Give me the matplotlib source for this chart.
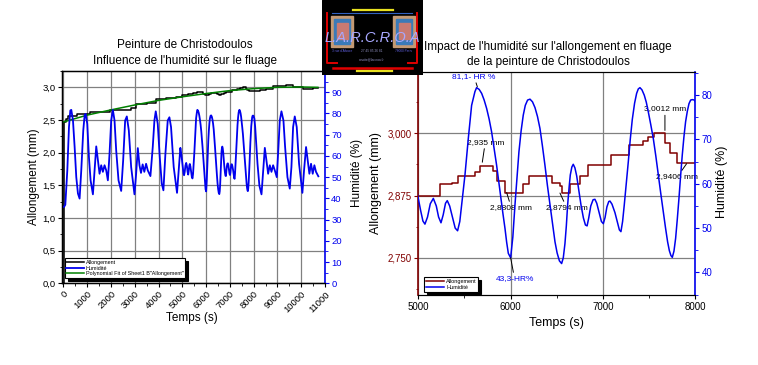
import numpy as np
import matplotlib.pyplot as plt
from matplotlib.ticker import FuncFormatter, MultipleLocator
from matplotlib.patches import Rectangle

plt.rcParams['font.family'] = ['Liberation Sans', 'DejaVu Sans']

# allongement (mm), escalier
temps_allong = [0, 15, 40, 90, 200, 550, 1112, 1951, 2860, 3070, 3500, 3909, 4330, 4750,
                5000, 5235, 5361, 5434, 5614, 5669, 5813, 5849, 5940, 6138, 6205, 6446,
                6536, 6561, 6644, 6753, 6836, 7085, 7285, 7439, 7494, 7559, 7674, 7729,
                7801, 8250, 8500, 8800, 9364, 9643, 10063, 10480, 10720]
allongement = [0.0, 2.44, 2.47, 2.52, 2.555, 2.598, 2.623, 2.659, 2.684, 2.75, 2.766, 2.817,
               2.837, 2.857, 2.875, 2.8972, 2.9012, 2.914, 2.9227, 2.935, 2.924, 2.9046,
               2.8808, 2.8972, 2.914, 2.9012, 2.8945, 2.8794, 2.8972, 2.9147, 2.936, 2.956,
               2.9765, 2.9845, 2.9933, 3.0012, 2.9798, 2.9597, 2.9406, 2.965, 2.98, 3.02,
               3.04, 3.005, 2.975, 2.99, 2.99]

# ajustement polynomial
temps_fit = [0, 1000, 2000, 3000, 4000, 5000, 6000, 7000, 8000, 9000, 10000, 10700]
allong_fit = [2.47, 2.575, 2.655, 2.73, 2.80, 2.855, 2.905, 2.95, 2.98, 3.0, 3.005, 3.0]

# humidite (%)
temps_hum = [0, 24, 77, 161, 231, 287, 329, 399, 469, 538, 608, 678, 748, 832, 888, 930, 1000,
             1070, 1140, 1238, 1308, 1378, 1448, 1517, 1587, 1657, 1727, 1797, 1867, 1937,
             2007, 2077, 2147, 2217, 2315, 2427, 2510, 2594, 2664, 2748, 2846, 2986, 3056,
             3126, 3196, 3260, 3330, 3400, 3475, 3545, 3657, 3755, 3825, 3881, 3965, 4049,
             4133, 4203, 4287, 4385, 4455, 4524, 4636, 4776, 4846, 4916, 4960,
             5000, 5025, 5050, 5072, 5100, 5130, 5163, 5195, 5220, 5246, 5270, 5295, 5314,
             5340, 5370, 5400, 5426, 5450, 5470, 5506, 5542, 5578, 5614, 5632, 5660, 5687,
             5714, 5741, 5768, 5795, 5822, 5849, 5872, 5896, 5918, 5940, 5958, 5976, 6001,
             6025, 6048, 6070, 6091, 6115, 6138, 6160, 6185, 6211, 6238, 6265, 6292, 6319,
             6346, 6373, 6400, 6428, 6455, 6482, 6505, 6530, 6554, 6572, 6590, 6605, 6619,
             6635, 6648, 6665, 6680, 6698, 6717, 6740, 6764, 6790, 6812, 6830, 6848, 6870,
             6895, 6915, 6935, 6960, 6985, 7006, 7025, 7045, 7065, 7078, 7100, 7132, 7160,
             7180, 7197, 7215, 7233, 7255, 7277, 7298, 7320, 7345, 7367, 7385, 7403, 7425,
             7450, 7472, 7494, 7520, 7548, 7575, 7602, 7629, 7656, 7680, 7703, 7722, 7739,
             7754, 7772, 7790, 7808, 7826, 7844, 7862, 7880, 7898, 7917, 7935, 7953, 7971,
             7993, 8030, 8063, 8110, 8161, 8240, 8329, 8399, 8469, 8538, 8608, 8678, 8748,
             8818, 8888, 8972, 9042, 9098, 9168, 9252, 9322, 9420, 9518, 9588, 9658, 9728,
             9811, 9909, 10049, 10119, 10203, 10273, 10343, 10413, 10483, 10553, 10622, 10720]
humidite = [36, 36, 37, 53.2, 73.6, 81.4, 81.7, 76.7, 64.2, 50, 42.3, 39.9, 53.2, 72, 79, 79.8,
            75.1, 59.5, 48.5, 41.9, 53.2, 64.5, 57.9, 51.6, 55.6, 52.5, 55.6, 53.2, 48.5, 61,
            76.7, 81.7, 76.7, 62.6, 48.5, 43.5, 57.9, 76.7, 78.6, 72, 54.8, 41.9, 51.6, 63.7,
            55.6, 52, 56, 52.5, 56.3, 53.2, 50.5, 64.2, 76.7, 81, 75.1, 59.5, 47, 43.8, 61,
            76.7, 78.2, 73.6, 54.8, 42.6, 53.2, 63.8, 60.5,
            56.7, 54, 51.6, 50.9, 52.5, 55.5, 56.7, 55, 52.5, 51.2, 53, 55.6, 56.2, 55, 52.5,
            50, 49.4, 51.5, 55.2, 62, 70.2, 77.7, 80.8, 81.7, 81.3, 80.4, 78.9, 77, 74.6, 71.7,
            68, 64.2, 60.5, 56.7, 53.2, 49.9, 46.8, 44.3, 43.3, 48, 55.2, 61.5, 67.2, 72, 75.5,
            77.7, 78.9, 79.1, 78.5, 77.2, 75.2, 72.5, 68.5, 64.2, 59.6, 55.2, 50.8, 46.9, 44.4,
            42.6, 42.0, 43.3, 46.5, 50.5, 55.2, 59.2, 62, 63.8, 64.4, 63.6, 61.8, 58.5, 55.2,
            52.3, 50.7, 50.5, 52.3, 55, 56.4, 56.5, 55.6, 53.5, 51.5, 51.0, 52.4, 54.8, 56,
            56.1, 55.4, 53.5, 51.2, 49.6, 49.2, 51.5, 55.2, 60, 65, 70, 74.5, 78.2, 80.4, 81.4,
            81.7, 81.2, 80, 78.4, 76.2, 73.4, 70.2, 66.3, 62, 57.8, 53.7, 50.1, 46.9, 44.9,
            43.8, 43.4, 44.8, 47.7, 52, 56.7, 61.8, 66.5, 70.6, 74, 76.4, 78.1, 78.9, 79, 78.9,
            77.5, 73.6, 65, 56.3, 46, 41.9, 53.2, 63.8, 57.9, 51.6, 55.6, 52.5, 55.6, 53.2, 50,
            64.2, 76.7, 81, 76.7, 64.2, 50, 44.6, 54.8, 73.6, 78.6, 73.6, 56.3, 42.6, 53.2,
            64.2, 57.9, 51.6, 56.3, 51.6, 55.6, 52.5, 50.4]

bleu = '#0000ee'
brun = '#800000'
vert = '#008000'
gris = '#808080'

W, H = 758, 365


def px(x0, y0, x1, y1):
    return [x0 / W, 1 - y1 / H, (x1 - x0) / W, (y1 - y0) / H]


def virgule(nd):
    return FuncFormatter(lambda v, p: f"{v:.{nd}f}".replace('.', ','))


fig = plt.figure(figsize=(W / 100, H / 100), dpi=100)

# ---------- graphe de gauche ----------
ax1 = fig.add_axes(px(61.7, 71, 325, 283.3))
ax1b = ax1.twinx()

l_al, = ax1.step(temps_allong, allongement, where='post', color='k', lw=1.1, label='Allongement')
l_fit, = ax1.plot(temps_fit, allong_fit, color=vert, lw=1.1,
                  label='Polynomial Fit of Sheet1 B"Allongement"')
l_hu, = ax1b.plot(temps_hum, humidite, color=bleu, lw=1.3, label='Humidité')

ax1.set_xlim(-75, 11000)
ax1.set_ylim(0, 3.25)
ax1b.set_ylim(0, 100)
ax1.set_xticks(range(0, 11001, 1000))
ax1.set_xticklabels([str(v) for v in range(0, 11001, 1000)], rotation=45, ha='right',
                    va='top', rotation_mode='anchor')
ax1.set_yticks(np.arange(0, 3.01, 0.5))
ax1.yaxis.set_major_formatter(virgule(1))
ax1.yaxis.set_minor_locator(MultipleLocator(0.25))
ax1.xaxis.set_minor_locator(MultipleLocator(500))
ax1b.set_yticks(range(0, 91, 10))
ax1b.yaxis.set_minor_locator(MultipleLocator(5))
ax1.grid(True, color=gris, lw=0.9)
ax1.tick_params(labelsize=6.8, direction='out', length=3, width=0.8, pad=1.5)
ax1.tick_params(which='minor', length=1.8, width=0.6)
ax1b.tick_params(axis='y', colors=bleu, labelsize=6.8, length=3, width=0.8, pad=1.5)
ax1b.tick_params(which='minor', colors=bleu, length=1.8, width=0.6)
ax1b.spines['right'].set_color(bleu)
ax1b.spines['right'].set_linewidth(1.2)
ax1.spines['right'].set_visible(False)
for s in ['left', 'bottom', 'top']:
    ax1.spines[s].set_linewidth(1.0)

ax1.set_ylabel('Allongement (mm)', fontsize=8.5, va='center')
ax1.yaxis.set_label_coords(-0.104, 0.5)
ax1b.set_ylabel('Humidité (%)', fontsize=8.5, va='center')
ax1b.yaxis.set_label_coords(1.12, 0.52)
ax1.set_xlabel('Temps (s)', fontsize=8.5, va='center')
ax1.xaxis.set_label_coords(0.494, -0.165)

leg1 = ax1b.legend(handles=[l_al, l_hu, l_fit], loc='lower left', bbox_to_anchor=(0.012, 0.025),
                   fontsize=3.9, frameon=True, fancybox=False, edgecolor='k', framealpha=1,
                   borderpad=0.3, labelspacing=0.15, handlelength=3.2, handletextpad=0.4,
                   borderaxespad=0, shadow={'facecolor': 'k', 'edgecolor': 'k', 'alpha': 1})
leg1.get_frame().set_linewidth(0.8)

fig.text(185 / W, 1 - 45 / H, 'Peinture de Christodoulos', ha='center', va='center', fontsize=8.5)
fig.text(185 / W, 1 - 60.7 / H, "Influence de l'humidité sur le fluage", ha='center',
         va='center', fontsize=8.5)

# ---------- graphe de droite ----------
ax2 = fig.add_axes(px(418.3, 71.7, 695, 295))
ax2b = ax2.twinx()

r_al, = ax2.step(temps_allong, allongement, where='post', color=brun, lw=1.1, label='Allongement')
r_hu, = ax2b.plot(temps_hum, humidite, color=bleu, lw=1.1, label='Humidité')

ax2.set_xlim(5000, 8000)
ax2.set_ylim(2.675, 3.124)
ax2b.set_ylim(34.9, 85.3)
ax2.set_xticks([5000, 6000, 7000, 8000])
ax2.xaxis.set_minor_locator(MultipleLocator(500))
ax2.set_yticks([2.75, 2.875, 3.0])
ax2.yaxis.set_minor_locator(MultipleLocator(0.0625))
ax2.yaxis.set_major_formatter(virgule(3))
ax2b.set_yticks([40, 50, 60, 70, 80])
ax2b.yaxis.set_minor_locator(MultipleLocator(5))
ax2.grid(True, which='major', color=gris, lw=0.9)
ax2.tick_params(labelsize=7, direction='out', length=3, width=0.8, pad=2)
ax2.tick_params(which='minor', length=1.8, width=0.6)
ax2.tick_params(axis='y', which='both', colors=brun)
ax2b.tick_params(axis='y', colors=bleu, labelsize=7, length=3, width=0.8, pad=2)
ax2b.tick_params(which='minor', colors=bleu, length=1.8, width=0.6)
ax2.spines['left'].set_color(brun)
ax2.spines['left'].set_linewidth(1.2)
ax2.spines['right'].set_visible(False)
ax2b.spines['left'].set_visible(False)
ax2b.spines['right'].set_color(bleu)
ax2b.spines['right'].set_linewidth(1.2)

ax2.set_ylabel('Allongement (mm)', fontsize=9, color='k', va='center')
ax2.yaxis.set_label_coords(-0.153, 0.5)
ax2b.set_ylabel('Humidité (%)', fontsize=9, va='center')
ax2b.yaxis.set_label_coords(1.096, 0.507)
ax2.set_xlabel('Temps (s)', fontsize=9, va='center')
ax2.xaxis.set_label_coords(0.498, -0.127)

trait = dict(arrowstyle='-', color='k', lw=0.7, shrinkA=0, shrinkB=0)
fs = 6.0
ax2b.annotate('81,1- HR %', xy=(5640, 81.9), xytext=(5604, 84.2), color=bleu, fontsize=fs,
              ha='center', va='center', arrowprops=trait)
ax2b.annotate('43,3-HR%', xy=(6001, 43.3), xytext=(6044, 38.6), color=bleu, fontsize=fs,
              ha='center', va='center', arrowprops=trait)
ax2.annotate('2,935 mm', xy=(5694, 2.942), xytext=(5726, 2.9818), fontsize=fs,
             ha='center', va='center', arrowprops=trait)
ax2.annotate('2,8808 mm', xy=(5958, 2.881), xytext=(6008, 2.8508), fontsize=fs,
             ha='center', va='center', arrowprops=trait)
ax2.annotate('2,8794 mm', xy=(6536, 2.880), xytext=(6608, 2.8508), fontsize=fs,
             ha='center', va='center', arrowprops=trait)
ax2.annotate('3,0012 mm', xy=(7674, 3.006), xytext=(7674, 3.049), fontsize=fs,
             ha='center', va='center', arrowprops=trait)
ax2.annotate('2,9406 mm', xy=(7909, 2.939), xytext=(7808, 2.9126), fontsize=fs,
             ha='center', va='center', arrowprops=trait)

leg2 = ax2b.legend(handles=[r_al, r_hu], loc='lower left', bbox_to_anchor=(0.022, 0.015),
                   fontsize=4.0, frameon=True, fancybox=False, edgecolor='k', framealpha=1,
                   borderpad=0.3, labelspacing=0.15, handlelength=3.2, handletextpad=0.4,
                   borderaxespad=0, shadow={'facecolor': 'k', 'edgecolor': 'k', 'alpha': 1})
leg2.get_frame().set_linewidth(0.8)

fig.text(548 / W, 1 - 46.7 / H, "Impact de l'humidité sur l'allongement en fluage",
         ha='center', va='center', fontsize=8.5)
fig.text(548 / W, 1 - 61.7 / H, 'de la peinture de Christodoulos', ha='center', va='center',
         fontsize=8.5)

# ---------- logo ----------
axl = fig.add_axes(px(321.7, 0, 423, 75))
axl.set_zorder(20)
axl.set_xlim(0, 101.3)
axl.set_ylim(75, 0)
axl.axis('off')
axl.add_patch(Rectangle((0, 0), 101.3, 75, color='black'))
for x0 in (9, 71):
    axl.add_patch(Rectangle((x0, 16), 22.6, 30.7, color='#c49a74'))
    axl.add_patch(Rectangle((x0 + 3.3, 18.5), 16, 25, color='#3a7ab8'))
    axl.add_patch(Rectangle((x0 + 6, 22.7), 11, 16.6, color='#c87a72'))
axl.plot([31.3, 71.3], [10, 10], color='#e8e020', lw=1.6)
axl.plot([10, 90], [12.7, 12.7], color='#3060c0', lw=0.8)
axl.plot([5.6, 5.6, 15], [13, 63, 63], color='#e00000', lw=1.4)
axl.plot([95.6, 95.6, 86], [13, 63, 63], color='#e00000', lw=1.4)
axl.plot([11, 90], [67.7, 67.7], color='#e00000', lw=1.8)
axl.plot([35, 70], [71.3, 71.3], color='#e8e020', lw=1.6)
axl.text(51, 37.5, 'L.A.R.C.R.O.A', color='#a8a8ff', fontsize=10.5, style='italic',
         ha='center', va='center')
axl.text(50, 51.5, '27 45 85 26 81', color='#9090c0', fontsize=2.3, ha='center', va='center')
axl.text(50, 59, 'a.noite@larcroa.fr', color='#9090c0', fontsize=2.3, ha='center', va='center')
axl.text(20, 50.5, "3 rue d'Alsace", color='#6060e0', fontsize=2.3, ha='center', va='center')
axl.text(82, 50.5, '78000 Paris', color='#6060e0', fontsize=2.3, ha='center', va='center')

fig.savefig('out.png', dpi=100)
